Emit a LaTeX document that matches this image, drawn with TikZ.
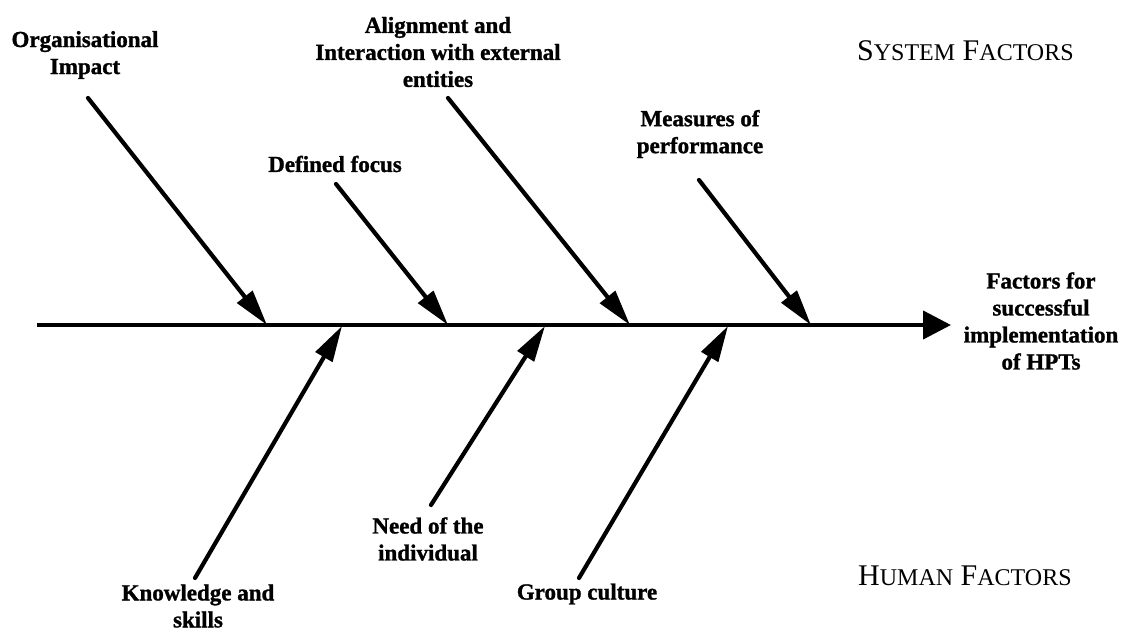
\documentclass[tikz,border=0pt]{standalone}
\usepackage{fontspec}
\setmainfont{Liberation Serif}[BoldFeatures={FakeBold=1.2}]
\usetikzlibrary{arrows.meta}

% hand-made small caps: full-size initial, reduced capitals after it
\newcommand{\scinitial}[1]{{\fontsize{30}{36}\selectfont #1}}
\newcommand{\screst}[1]{{\fontsize{24}{36}\selectfont #1}}

\begin{document}
\begin{tikzpicture}[x=1pt,y=-1pt,
  lab/.style={font=\bfseries\fontsize{23}{27}\selectfont, align=center, inner sep=0pt},
  side/.style={font=\fontsize{30}{36}\selectfont, anchor=base west, inner sep=0pt},
  spine/.style={line width=4.2pt, -{Triangle[length=28pt,width=28pt]}},
  bone/.style={line width=4.2pt, line cap=round, -{Triangle[length=36pt,width=19pt]}}
]
\path[use as bounding box, fill=white] (0,0) rectangle (1134,631);

% main spine and the effect it points to
\coordinate (tail) at (37,325);
\node[lab] (effect) at (1041,321) {Factors for\\successful\\implementation\\of HPTs};
\coordinate (head) at (951,325);
\draw[spine] (tail) -- (head);

% group headings
\node[side] (sys) at (857,61) {\scinitial{S}\screst{YSTEM} \scinitial{F}\screst{ACTORS}};
\node[side] (hum) at (858,585) {\scinitial{H}\screst{UMAN} \scinitial{F}\screst{ACTORS}};

% system factors (upper bones)
\node[lab] (org) at (85,55) {Organisational\\Impact};
\node[lab] (foc) at (335,164) {Defined focus};
\node[lab] (ali) at (438,52) {Alignment and\\Interaction with external\\entities};
\node[lab] (mea) at (700,134) {Measures of\\performance};

\coordinate (orgS) at (88,98);   \coordinate (orgT) at (267,325);
\coordinate (focS) at (336,184); \coordinate (focT) at (448,325);
\coordinate (aliS) at (448,98);  \coordinate (aliT) at (630,325);
\coordinate (meaS) at (699,180); \coordinate (meaT) at (811,325);

\draw[bone] (orgS) -- (orgT);
\draw[bone] (focS) -- (focT);
\draw[bone] (aliS) -- (aliT);
\draw[bone] (meaS) -- (meaT);

% human factors (lower bones)
\node[lab] (kno) at (198,606) {Knowledge and\\skills};
\node[lab] (nee) at (428,539) {Need of the\\individual};
\node[lab] (gro) at (587,594) {Group culture};

\coordinate (knoS) at (195,578); \coordinate (knoT) at (342,326);
\coordinate (neeS) at (431,505); \coordinate (neeT) at (545,326);
\coordinate (groS) at (579,578); \coordinate (groT) at (728,326);

\draw[bone] (knoS) -- (knoT);
\draw[bone] (neeS) -- (neeT);
\draw[bone] (groS) -- (groT);
\end{tikzpicture}
\end{document}
